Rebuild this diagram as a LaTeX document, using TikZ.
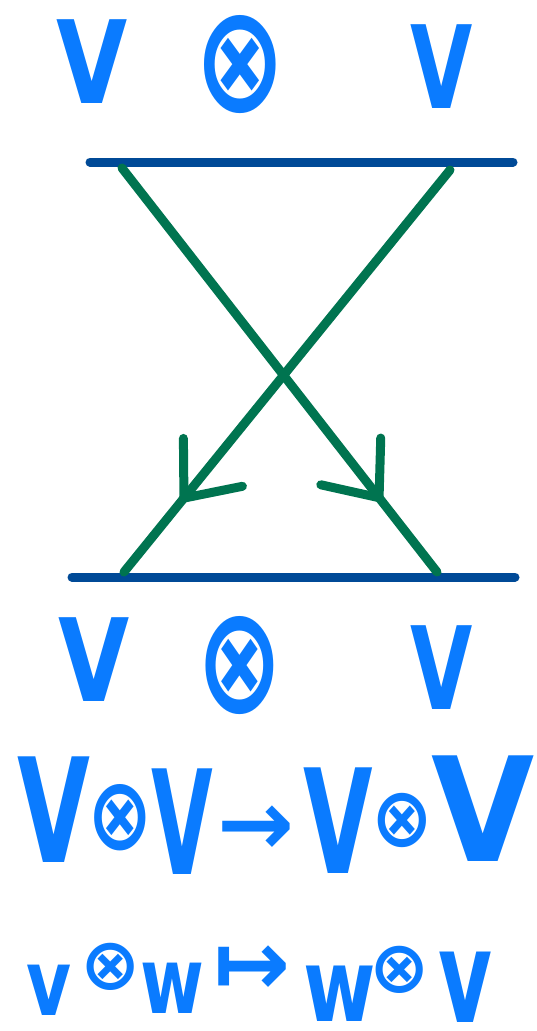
\documentclass[tikz,border=0pt]{standalone}
\usepackage{graphicx}
\usepackage{fontspec}
\setmainfont{DejaVu Sans}
\usetikzlibrary{positioning}
\usetikzlibrary{arrows.meta}
\usetikzlibrary{decorations.markings}

\definecolor{inkblue}{RGB}{10,123,255}
\definecolor{barblue}{RGB}{0,74,151}
\definecolor{mapgreen}{RGB}{0,116,80}

% squeeze a glyph: #1 horizontal factor, #2 vertical factor
\newcommand{\inkglyph}[3]{\scalebox{#1}[#2]{#3}}

\begin{document}
\begin{tikzpicture}[x=1pt, y=-1pt,
    glyph/.style={text=inkblue, inner sep=0pt, font=\bfseries\fontsize{115}{115}\selectfont},
    bigglyph/.style={glyph, font=\bfseries\fontsize{145}{145}\selectfont},
    smallglyph/.style={glyph, font=\bfseries\fontsize{92}{92}\selectfont},
    tinyglyph/.style={glyph, font=\bfseries\fontsize{72}{72}\selectfont},
    bar/.style={draw=barblue, line width=9pt, line cap=round},
    crossing/.style={draw=mapgreen, line width=9pt, line cap=round,
      postaction={decorate, decoration={markings, mark=at position 0.825 with
        {\arrow[mapgreen, line width=9pt]{Straight Barb[length=46pt, width=76pt, round]}}}}}]
          \useasboundingbox (0,0) rectangle (536,1031);

          % top row
          \node[glyph] (t1) at (92, 62) {\inkglyph{0.8}{1}{V}};
          \node[glyph] (t2) at (240, 65) {\inkglyph{0.95}{1.3}{⊗}};
          \node[glyph] (t3) at (442, 67) {\inkglyph{0.7}{1}{V}};

          \coordinate (topL) at (90, 162);
          \coordinate (topR) at (513, 162);
          \coordinate (botL) at (72, 577);
          \coordinate (botR) at (515, 577);
          \draw[bar] (topL) -- (topR);
          \draw[bar] (botL) -- (botR);

          % the swap
          \coordinate (a1) at (122, 168);
          \coordinate (a2) at (450, 170);
          \coordinate (b1) at (124, 572);
          \coordinate (b2) at (437, 572);
          \draw[crossing] (a1) -- (b2);
          \draw[crossing] (a2) -- (b1);

          % bottom row
          \node[glyph] (u1) at (94, 660) {\inkglyph{0.8}{1}{V}};
          \node[glyph] (u2) at (240, 666) {\inkglyph{0.9}{1.3}{⊗}};
          \node[glyph] (u3) at (442, 668) {\inkglyph{0.7}{1}{V}};

          % V (x) V -> V (x) V
          \node[bigglyph] (m1) at (54, 810) {\inkglyph{0.65}{1}{V}};
          \node[smallglyph] (m2) at (120, 818) {\inkglyph{0.85}{1.1}{⊗}};
          \node[bigglyph] (m3) at (182, 822) {\inkglyph{0.55}{1}{V}};
          \node[smallglyph] (m4) at (256, 831) {→};
          \node[bigglyph] (m5) at (338, 821) {\inkglyph{0.62}{1}{V}};
          \node[smallglyph] (m6) at (402, 820) {\inkglyph{0.8}{0.9}{⊗}};
          \node[bigglyph] (m7) at (483, 809) {\inkglyph{0.92}{1}{V}};

          % v (x) w |-> w (x) v
          \node[tinyglyph] (n1) at (49, 990) {\inkglyph{0.96}{1.28}{v}};
          \node[tinyglyph] (n2) at (111, 967) {⊗};
          \node[tinyglyph] (n3) at (172, 988) {\inkglyph{0.96}{1.28}{w}};
          \node[tinyglyph] (n4) at (252, 971) {\inkglyph{1.28}{1.28}{↦}};
          \node[tinyglyph] (n5) at (340, 994) {\inkglyph{1.09}{1.41}{w}};
          \node[tinyglyph] (n6) at (400, 970) {⊗};
          \node[tinyglyph] (n7) at (465, 987) {\inkglyph{1.15}{1.79}{v}};
        \end{tikzpicture}
\end{document}
